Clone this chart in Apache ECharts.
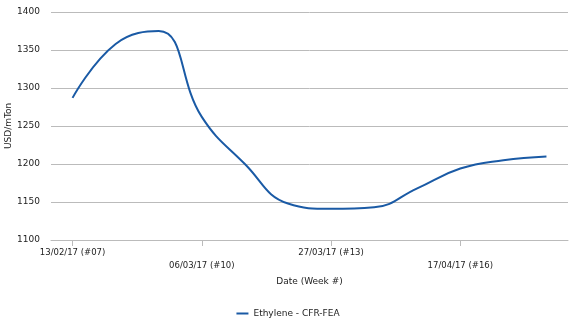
<!DOCTYPE html>
<html><head><meta charset="utf-8">
<script src="https://cdn.jsdelivr.net/npm/echarts@6/dist/echarts.min.js"></script>
<style>html,body{margin:0;padding:0;background:#fff}#c{width:576px;height:332px}</style>
</head><body><div id="c"></div>
<script>
var categories = ['13/02/17 (#07)','20/02/17 (#08)','27/02/17 (#09)','06/03/17 (#10)','13/03/17 (#11)','20/03/17 (#12)','27/03/17 (#13)','03/04/17 (#14)','10/04/17 (#15)','17/04/17 (#16)','24/04/17 (#17)','01/05/17 (#18)'];
var ethylene = [1287, 1358, 1375, 1262, 1200, 1148, 1141, 1143, 1168, 1194, 1205, 1210];
var yTicks = [1100, 1150, 1200, 1250, 1300, 1350, 1400];
var font = 'DejaVu Sans';
var chart = echarts.init(document.getElementById('c'));
chart.setOption({
  animation: false,
  textStyle: {fontFamily: font},
  grid: {left: 51, right: 8, top: 12, bottom: 92, containLabel: false, outerBoundsMode: 'none'},
  legend: {
    bottom: 9, left: 'center',
    itemWidth: 12, itemHeight: 2, itemGap: 10,
    icon: 'rect',
    textStyle: {fontFamily: font, fontSize: 9, color: '#222'},
    data: ['Ethylene - CFR-FEA']
  },
  xAxis: {
    type: 'category',
    data: categories,
    boundaryGap: true,
    name: 'Date (Week #)',
    nameLocation: 'middle',
    nameGap: 37,
    nameMoveOverlap: false,
    nameTextStyle: {fontFamily: font, fontSize: 9, color: '#222'},
    axisLine: {show: true, lineStyle: {color: '#bbbbbb', width: 1}},
    axisTick: {show: true, alignWithLabel: true, interval: 2, length: 6, lineStyle: {color: '#bbbbbb'}},
    axisLabel: {
      interval: 2, margin: 6, fontFamily: font, fontSize: 8.5, color: '#222', lineHeight: 13,
      formatter: function (v, i) { return (i % 6 === 3) ? '\n' + v : v; }
    }
  },
  yAxis: {
    type: 'value',
    min: yTicks[0], max: yTicks[yTicks.length - 1], interval: 50,
    name: 'USD/mTon',
    nameLocation: 'middle',
    nameGap: 38,
    nameRotate: 90,
    nameMoveOverlap: false,
    nameTextStyle: {fontFamily: font, fontSize: 9, color: '#222'},
    axisLine: {show: false},
    axisTick: {show: false},
    axisLabel: {margin: 11, fontFamily: font, fontSize: 9, color: '#222', formatter: function (v) { return String(v); }},
    splitLine: {lineStyle: {color: '#bbbbbb', width: 1}}
  },
  series: [{
    name: 'Ethylene - CFR-FEA',
    type: 'line',
    data: ethylene,
    smooth: 0.45,
    showSymbol: false,
    symbol: 'none',
    lineStyle: {color: '#1a5aa5', width: 2},
    itemStyle: {color: '#1a5aa5'}
  }]
});
</script></body></html>
